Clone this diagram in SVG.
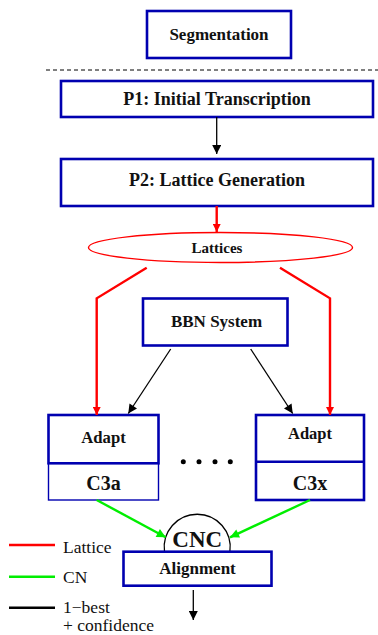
<svg xmlns="http://www.w3.org/2000/svg" width="378" height="635" viewBox="0 0 378 635">
  <style>
    .box { fill: #ffffff; stroke: #0000b0; stroke-width: 2.6; }
    .thin { fill: #ffffff; stroke: #0000b0; stroke-width: 1.4; }
    .lbl { font-family: "Liberation Serif", "Times New Roman", serif; font-weight: bold; text-anchor: middle; fill: #111111; }
    .leg { font-family: "Liberation Serif", "Times New Roman", serif; fill: #111111; font-size: 17.5px; }
    .blk { stroke: #000000; stroke-width: 1.3; fill: none; }
    .red { stroke: #ff0000; stroke-width: 2.4; fill: none; }
    .grn { stroke: #00ee00; stroke-width: 2.4; fill: none; }
  </style>
  <defs>
    <marker id="ahBlack" viewBox="0 0 10 10" refX="10" refY="5" markerUnits="userSpaceOnUse" markerWidth="12" markerHeight="9" orient="auto">
      <path d="M0,0 L10,5 L0,10 z" fill="#000000"/>
    </marker>
    <marker id="ahRed" viewBox="0 0 10 10" refX="10" refY="5" markerUnits="userSpaceOnUse" markerWidth="13" markerHeight="8" orient="auto">
      <path d="M0,0 L10,5 L0,10 z" fill="#ff0000"/>
    </marker>
    <marker id="ahGreen" viewBox="0 0 10 10" refX="10" refY="5" markerUnits="userSpaceOnUse" markerWidth="14" markerHeight="9" orient="auto">
      <path d="M0,0 L10,5 L0,10 z" fill="#00ee00"/>
    </marker>
  </defs>

  <!-- separator under the segmentation step -->
  <line x1="46" y1="70" x2="378" y2="70" stroke="#000000" stroke-width="1" stroke-dasharray="4,3"/>

  <g id="segmentation">
    <rect class="box" x="147" y="11" width="144" height="47"/>
    <text class="lbl" x="219" y="39.5" font-size="17">Segmentation</text>
  </g>

  <g id="p1">
    <rect class="box" x="61" y="81" width="312" height="36"/>
    <text class="lbl" x="217" y="105.3" font-size="18">P1: Initial Transcription</text>
  </g>

  <g id="p2">
    <rect class="box" x="61" y="159" width="312" height="47"/>
    <text class="lbl" x="217" y="186" font-size="18">P2: Lattice Generation</text>
  </g>

  <g id="lattices">
    <ellipse cx="220.5" cy="247.5" rx="132" ry="15" fill="#ffffff" stroke="#ff0000" stroke-width="1.4"/>
    <text class="lbl" x="217" y="252.7" font-size="15">Lattices</text>
  </g>

  <g id="bbn">
    <rect class="box" x="143" y="298.5" width="144.5" height="47"/>
    <text class="lbl" x="216.5" y="326.7" font-size="17">BBN System</text>
  </g>

  <g id="c3a">
    <rect class="thin" x="48.5" y="463.3" width="110" height="36.7"/>
    <rect class="box" x="48.5" y="415" width="110" height="48.3"/>
    <text class="lbl" x="103.5" y="442.7" font-size="16.7">Adapt</text>
    <text class="lbl" x="103.5" y="490" font-size="20">C3a</text>
  </g>

  <g id="dots" fill="#000000">
    <circle cx="183.3" cy="461.7" r="2.5"/>
    <circle cx="199" cy="461.7" r="2.5"/>
    <circle cx="215" cy="461.7" r="2.5"/>
    <circle cx="230.3" cy="461.7" r="2.5"/>
  </g>

  <g id="c3x">
    <rect class="box" x="256" y="415" width="108" height="85"/>
    <line x1="256" y1="461.7" x2="364" y2="461.7" stroke="#0000b0" stroke-width="2.6"/>
    <text class="lbl" x="310" y="439" font-size="16.5">Adapt</text>
    <text class="lbl" x="310" y="490" font-size="20">C3x</text>
  </g>

  <g id="cnc">
    <path d="M164.5,551.7 A33,33 0 1,1 229.9,551.7" fill="#ffffff" stroke="#000000" stroke-width="1.3"/>
    <text class="lbl" x="197.2" y="547" font-size="23">CNC</text>
  </g>

  <g id="alignment">
    <rect class="box" x="123.5" y="551.7" width="148" height="34"/>
    <text class="lbl" x="197.5" y="574" font-size="17">Alignment</text>
  </g>

  <g id="connectors">
    <line class="blk" x1="216.7" y1="117" x2="216.7" y2="154" marker-end="url(#ahBlack)"/>
    <line class="red" x1="216.7" y1="206" x2="216.7" y2="232" marker-end="url(#ahRed)" stroke-width="1.8"/>
    <polyline class="red" points="146.7,267.7 96.7,298.3 96.7,415" marker-end="url(#ahRed)"/>
    <polyline class="red" points="280,267.7 330,298.3 330,415" marker-end="url(#ahRed)"/>
    <line class="blk" x1="170.7" y1="349" x2="128.3" y2="413.5" marker-end="url(#ahBlack)"/>
    <line class="blk" x1="250.7" y1="349" x2="292.7" y2="413.5" marker-end="url(#ahBlack)"/>
    <line class="grn" x1="96.7" y1="500" x2="165.7" y2="537.3" marker-end="url(#ahGreen)"/>
    <line class="grn" x1="310" y1="500" x2="230" y2="537.3" marker-end="url(#ahGreen)"/>
    <line class="blk" x1="193.3" y1="590" x2="193.3" y2="620" marker-end="url(#ahBlack)"/>
  </g>

  <g id="legend">
    <line x1="9" y1="545" x2="55" y2="545" stroke="#ff0000" stroke-width="2.4"/>
    <text class="leg" x="63" y="552.7">Lattice</text>
    <line x1="9" y1="576.7" x2="55" y2="576.7" stroke="#00ee00" stroke-width="2.4"/>
    <text class="leg" x="63" y="583.3">CN</text>
    <line x1="9" y1="607.7" x2="55" y2="607.7" stroke="#000000" stroke-width="2.4"/>
    <text class="leg" x="63" y="612.8" font-size="16.5">1−best</text>
    <text class="leg" x="63" y="631.3" font-size="16.5">+ confidence</text>
  </g>
</svg>
